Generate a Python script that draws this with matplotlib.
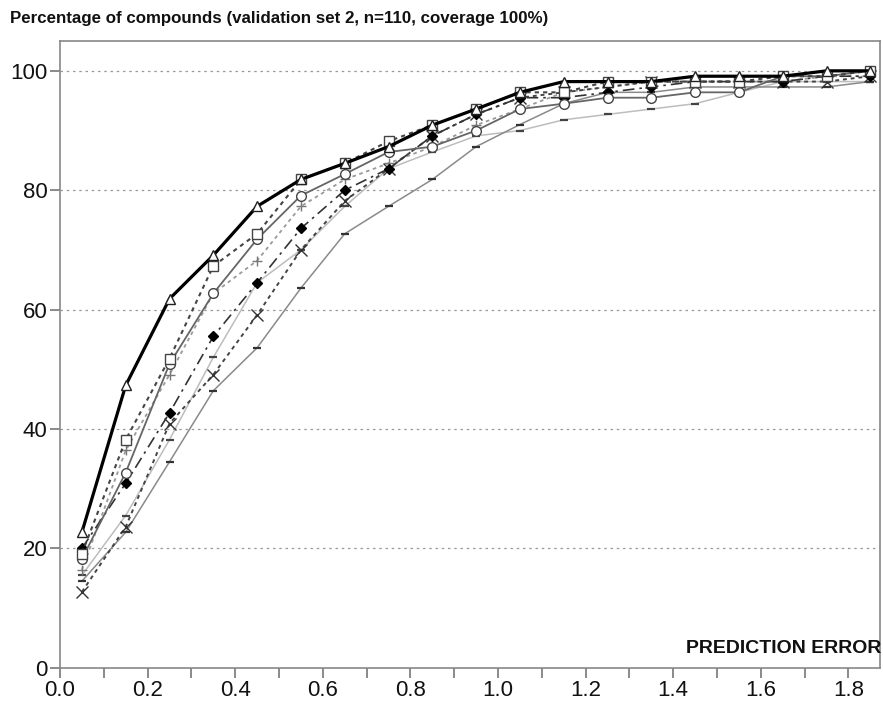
import numpy as np
import matplotlib
matplotlib.use("Agg")
import matplotlib.pyplot as plt

plt.rcParams['font.family'] = ['Liberation Sans', 'DejaVu Sans']

# ---- data ----
pred_error = [0.05, 0.15, 0.25, 0.35, 0.45, 0.55, 0.65, 0.75, 0.85, 0.95,
              1.05, 1.15, 1.25, 1.35, 1.45, 1.55, 1.65, 1.75, 1.85]

series_triangle = [22.7, 47.3, 61.8, 69.1, 77.3, 81.8, 84.5, 87.3, 90.9, 93.6,
                   96.4, 98.2, 98.2, 98.2, 99.1, 99.1, 99.1, 100, 100]
series_square = [19.1, 38.2, 51.8, 67.3, 72.7, 81.8, 84.5, 88.2, 90.9, 93.6,
                 96.4, 96.4, 98.2, 98.2, 98.2, 98.2, 99.1, 99.1, 100]
series_circle = [18.2, 32.7, 50.9, 62.7, 71.8, 79.1, 82.7, 86.4, 87.3, 90.0,
                 93.6, 94.5, 95.5, 95.5, 96.4, 96.4, 99.1, 99.1, 100]
series_diamond = [20.0, 30.9, 42.7, 55.5, 64.5, 73.6, 80.0, 83.6, 89.1, 92.7,
                  95.5, 95.5, 96.4, 97.3, 98.2, 98.2, 98.2, 99.1, 99.1]
series_cross = [12.7, 23.6, 40.9, 49.1, 59.1, 70.0, 78.2, 83.6, 89.1, 92.7,
                95.5, 96.4, 97.3, 98.2, 98.2, 98.2, 98.2, 98.2, 99.1]
series_plus = [16.4, 36.4, 49.1, 62.7, 68.2, 77.3, 81.8, 84.5, 87.3, 90.9,
               93.6, 96.4, 97.3, 98.2, 98.2, 98.2, 98.2, 99.1, 99.1]
series_dash_low = [14.5, 22.7, 34.5, 46.4, 53.6, 63.6, 72.7, 77.3, 81.8, 87.3,
                   91.0, 94.5, 96.4, 96.4, 97.3, 97.3, 97.3, 97.3, 98.2]
series_dash_light = [15.5, 25.5, 38.2, 52.0, 64.5, 70.0, 77.3, 83.6, 86.4, 89.1,
                     90.0, 91.8, 92.7, 93.6, 94.5, 96.4, 98.2, 98.2, 98.2]

x_ticks = [0.0, 0.1, 0.2, 0.3, 0.4, 0.5, 0.6, 0.7, 0.8, 0.9,
           1.0, 1.1, 1.2, 1.3, 1.4, 1.5, 1.6, 1.7, 1.8]
x_tick_labels = ['0.0', '', '0.2', '', '0.4', '', '0.6', '', '0.8', '',
                 '1.0', '', '1.2', '', '1.4', '', '1.6', '', '1.8']
y_ticks = [0, 20, 40, 60, 80, 100]
y_tick_labels = ['0', '20', '40', '60', '80', '100']

title = "Percentage of compounds (validation set 2, n=110, coverage 100%)"
xlabel = "PREDICTION ERROR"

# ---- figure ----
fig = plt.figure(figsize=(8.83, 7.01), dpi=100)
ax = fig.add_axes([60 / 883, 1 - 667.7 / 701, (880 - 60) / 883, (667.7 - 41) / 701])

dot = (0, (2, 2))

ax.plot(pred_error, series_dash_light, color='#bdbdbd', lw=1.1, ls='-',
        marker='_', ms=6, mew=1.6, mec='#444444', zorder=3)
ax.plot(pred_error, series_dash_low, color='#8a8a8a', lw=1.1, ls='-',
        marker='_', ms=6, mew=1.6, mec='#333333', zorder=3)
ax.plot(pred_error, series_plus, color='#9a9a9a', lw=1.3, ls=dot,
        marker='+', ms=7, mew=1.0, mec='#777777', zorder=4)
ax.plot(pred_error, series_cross, color='#444444', lw=1.4, ls=dot,
        marker='x', ms=8, mew=1.0, mec='#333333', zorder=4)
ax.plot(pred_error, series_diamond, color='#333333', lw=1.2, ls=(0, (7, 3, 1.5, 3)),
        marker='D', ms=5.5, mfc='black', mec='black', zorder=5)
ax.plot(pred_error, series_circle, color='#666666', lw=1.3, ls='-',
        marker='o', ms=7, mfc='white', mec='#444444', mew=1.0, zorder=5)
ax.plot(pred_error, series_square, color='#444444', lw=1.5, ls=dot,
        marker='s', ms=7, mfc='white', mec='#444444', mew=1.0, zorder=6)
ax.plot(pred_error, series_triangle, color='black', lw=2.3, ls='-',
        marker='^', ms=7, mfc='white', mec='#222222', mew=1.0, zorder=7)

ax.set_xlim(0, 1.872)
ax.set_ylim(0, 105)

ax.set_xticks(x_ticks)
ax.set_xticklabels(x_tick_labels)
ax.set_yticks(y_ticks)
ax.set_yticklabels(y_tick_labels)
ax.tick_params(axis='both', direction='out', length=7, width=1.2, color='#777777',
               labelsize=16, labelcolor='#111111', pad=2)

for v in y_ticks[1:]:
    ax.axhline(v, color='#9a9a9a', lw=0.9, ls=(0, (2, 3)), zorder=1)

for s in ax.spines.values():
    s.set_color('#888888')
    s.set_linewidth(1.2)

ax.text(1.002, 0.03, xlabel, transform=ax.transAxes, ha='right', va='center',
        fontsize=14, fontweight='bold', color='#111111')

fig.text(10 / 883, 1 - 18 / 701, title, ha='left', va='center',
         fontsize=12.2, fontweight='bold', color='#111111')

fig.savefig('out.png', dpi=100)
